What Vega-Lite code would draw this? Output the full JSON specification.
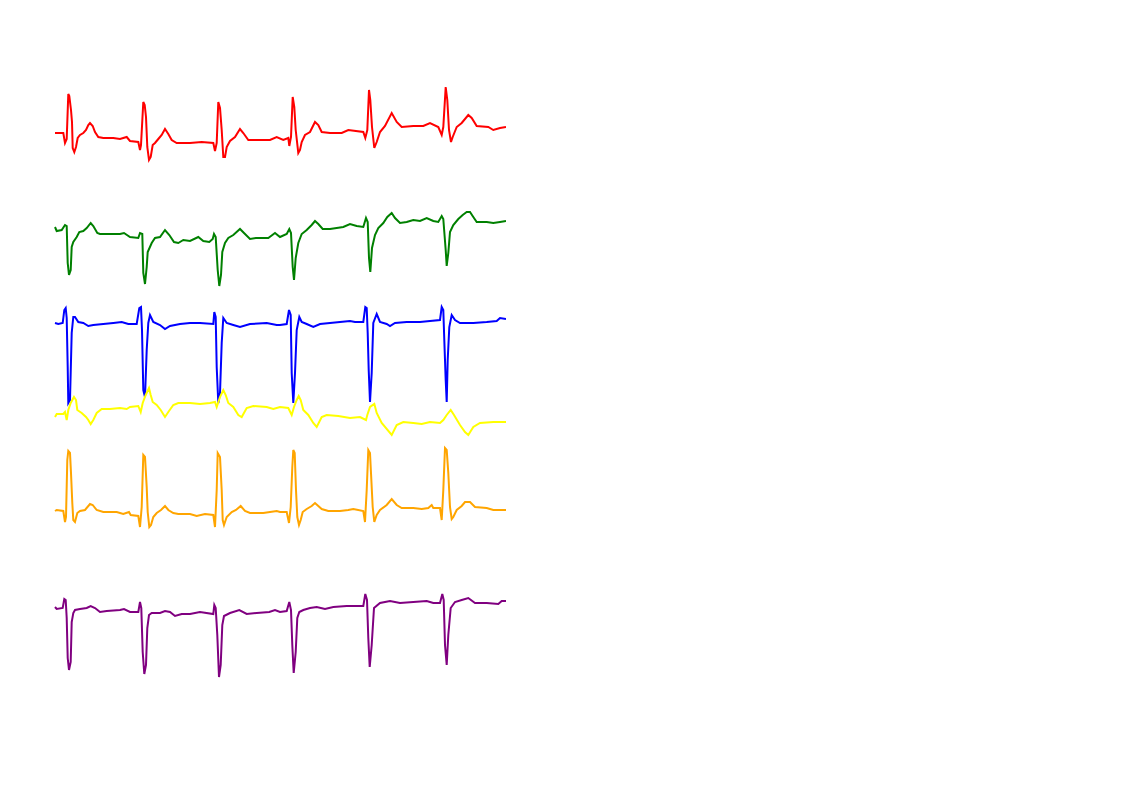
{
  "$schema": "https://vega.github.io/schema/vega-lite/v6.json",
  "width": 451,
  "height": 793,
  "autosize": {"type": "none"},
  "padding": {"left": 55, "top": 0, "right": 0, "bottom": 0},
  "background": "white",
  "config": {"view": {"stroke": null}},
  "data": {"values": [
    {"lead":"L1","t":0,"v":6.60},{"lead":"L1","t":8.3,"v":6.60},{"lead":"L1","t":10,"v":6.50},{"lead":"L1","t":11.7,"v":6.54},{"lead":"L1","t":13.3,"v":6.99},{"lead":"L1","t":14.3,"v":6.97},{"lead":"L1","t":16,"v":6.83},{"lead":"L1","t":17,"v":6.71},{"lead":"L1","t":17.7,"v":6.45},{"lead":"L1","t":19.3,"v":6.41},{"lead":"L1","t":21,"v":6.46},{"lead":"L1","t":22.7,"v":6.55},{"lead":"L1","t":25,"v":6.58},{"lead":"L1","t":28.3,"v":6.60},{"lead":"L1","t":31,"v":6.63},{"lead":"L1","t":33.3,"v":6.68},{"lead":"L1","t":35,"v":6.70},{"lead":"L1","t":37.7,"v":6.67},{"lead":"L1","t":40,"v":6.61},{"lead":"L1","t":43.3,"v":6.56},{"lead":"L1","t":48.3,"v":6.55},{"lead":"L1","t":58.3,"v":6.55},{"lead":"L1","t":65,"v":6.54},{"lead":"L1","t":71.7,"v":6.56},{"lead":"L1","t":75,"v":6.52},{"lead":"L1","t":83.3,"v":6.51},{"lead":"L1","t":85,"v":6.43},{"lead":"L1","t":86,"v":6.48},{"lead":"L1","t":88.3,"v":6.91},{"lead":"L1","t":89.7,"v":6.88},{"lead":"L1","t":91,"v":6.76},{"lead":"L1","t":92.3,"v":6.46},{"lead":"L1","t":94,"v":6.33},{"lead":"L1","t":95.7,"v":6.36},{"lead":"L1","t":97.7,"v":6.48},{"lead":"L1","t":100,"v":6.50},{"lead":"L1","t":103.3,"v":6.54},{"lead":"L1","t":106.7,"v":6.58},{"lead":"L1","t":110,"v":6.64},{"lead":"L1","t":113.3,"v":6.59},{"lead":"L1","t":116.7,"v":6.53},{"lead":"L1","t":121.7,"v":6.50},{"lead":"L1","t":135,"v":6.50},{"lead":"L1","t":146.7,"v":6.51},{"lead":"L1","t":158.3,"v":6.50},{"lead":"L1","t":160,"v":6.42},{"lead":"L1","t":161.7,"v":6.50},{"lead":"L1","t":163.3,"v":6.91},{"lead":"L1","t":165,"v":6.85},{"lead":"L1","t":166.7,"v":6.63},{"lead":"L1","t":168.3,"v":6.36},{"lead":"L1","t":170,"v":6.36},{"lead":"L1","t":171.7,"v":6.46},{"lead":"L1","t":175,"v":6.52},{"lead":"L1","t":180,"v":6.56},{"lead":"L1","t":185,"v":6.64},{"lead":"L1","t":188.3,"v":6.60},{"lead":"L1","t":193.3,"v":6.53},{"lead":"L1","t":201.7,"v":6.53},{"lead":"L1","t":215,"v":6.53},{"lead":"L1","t":221.7,"v":6.56},{"lead":"L1","t":228.3,"v":6.53},{"lead":"L1","t":233.3,"v":6.55},{"lead":"L1","t":234.3,"v":6.47},{"lead":"L1","t":236,"v":6.56},{"lead":"L1","t":237.7,"v":6.96},{"lead":"L1","t":239.3,"v":6.86},{"lead":"L1","t":240.7,"v":6.63},{"lead":"L1","t":243.3,"v":6.40},{"lead":"L1","t":245,"v":6.43},{"lead":"L1","t":246.7,"v":6.51},{"lead":"L1","t":250,"v":6.58},{"lead":"L1","t":255,"v":6.61},{"lead":"L1","t":260,"v":6.71},{"lead":"L1","t":263.3,"v":6.68},{"lead":"L1","t":266.7,"v":6.61},{"lead":"L1","t":275,"v":6.60},{"lead":"L1","t":286.7,"v":6.60},{"lead":"L1","t":293.3,"v":6.63},{"lead":"L1","t":308.3,"v":6.61},{"lead":"L1","t":310.3,"v":6.55},{"lead":"L1","t":312.3,"v":6.63},{"lead":"L1","t":314,"v":7.03},{"lead":"L1","t":315.3,"v":6.93},{"lead":"L1","t":317,"v":6.66},{"lead":"L1","t":319.3,"v":6.45},{"lead":"L1","t":321.7,"v":6.51},{"lead":"L1","t":325,"v":6.61},{"lead":"L1","t":330,"v":6.67},{"lead":"L1","t":336.7,"v":6.80},{"lead":"L1","t":341.7,"v":6.71},{"lead":"L1","t":346.7,"v":6.66},{"lead":"L1","t":358.3,"v":6.67},{"lead":"L1","t":368.3,"v":6.67},{"lead":"L1","t":375,"v":6.70},{"lead":"L1","t":383.3,"v":6.66},{"lead":"L1","t":386.7,"v":6.58},{"lead":"L1","t":388.3,"v":6.66},{"lead":"L1","t":390.7,"v":7.06},{"lead":"L1","t":392.3,"v":6.93},{"lead":"L1","t":394,"v":6.63},{"lead":"L1","t":396,"v":6.51},{"lead":"L1","t":397.7,"v":6.56},{"lead":"L1","t":401.7,"v":6.66},{"lead":"L1","t":406.7,"v":6.70},{"lead":"L1","t":413.3,"v":6.78},{"lead":"L1","t":416.7,"v":6.75},{"lead":"L1","t":421.7,"v":6.67},{"lead":"L1","t":433.3,"v":6.66},{"lead":"L1","t":438.3,"v":6.63},{"lead":"L1","t":445,"v":6.65},{"lead":"L1","t":451,"v":6.66},

    {"lead":"L2","t":0,"v":5.66},{"lead":"L2","t":1.7,"v":5.62},{"lead":"L2","t":6.7,"v":5.63},{"lead":"L2","t":10,"v":5.68},{"lead":"L2","t":11.7,"v":5.67},{"lead":"L2","t":12.7,"v":5.30},{"lead":"L2","t":14,"v":5.18},{"lead":"L2","t":15.7,"v":5.23},{"lead":"L2","t":16.7,"v":5.46},{"lead":"L2","t":18.3,"v":5.51},{"lead":"L2","t":21.7,"v":5.56},{"lead":"L2","t":24.3,"v":5.61},{"lead":"L2","t":28.3,"v":5.62},{"lead":"L2","t":31.7,"v":5.65},{"lead":"L2","t":35.7,"v":5.70},{"lead":"L2","t":38.3,"v":5.67},{"lead":"L2","t":42.3,"v":5.60},{"lead":"L2","t":45,"v":5.59},{"lead":"L2","t":65,"v":5.59},{"lead":"L2","t":69,"v":5.60},{"lead":"L2","t":75,"v":5.56},{"lead":"L2","t":83.3,"v":5.55},{"lead":"L2","t":85,"v":5.60},{"lead":"L2","t":87.3,"v":5.59},{"lead":"L2","t":88.3,"v":5.20},{"lead":"L2","t":90,"v":5.09},{"lead":"L2","t":91.7,"v":5.26},{"lead":"L2","t":92.7,"v":5.41},{"lead":"L2","t":96.7,"v":5.50},{"lead":"L2","t":100,"v":5.55},{"lead":"L2","t":105,"v":5.56},{"lead":"L2","t":110,"v":5.63},{"lead":"L2","t":114.3,"v":5.58},{"lead":"L2","t":119,"v":5.51},{"lead":"L2","t":123.3,"v":5.50},{"lead":"L2","t":128.3,"v":5.53},{"lead":"L2","t":135,"v":5.52},{"lead":"L2","t":143.3,"v":5.56},{"lead":"L2","t":148.3,"v":5.52},{"lead":"L2","t":154.3,"v":5.51},{"lead":"L2","t":157.7,"v":5.54},{"lead":"L2","t":159,"v":5.59},{"lead":"L2","t":160.7,"v":5.56},{"lead":"L2","t":162.7,"v":5.23},{"lead":"L2","t":164.3,"v":5.07},{"lead":"L2","t":166,"v":5.18},{"lead":"L2","t":167.3,"v":5.41},{"lead":"L2","t":170,"v":5.50},{"lead":"L2","t":173.3,"v":5.55},{"lead":"L2","t":178.3,"v":5.58},{"lead":"L2","t":185,"v":5.64},{"lead":"L2","t":189,"v":5.60},{"lead":"L2","t":195,"v":5.54},{"lead":"L2","t":201,"v":5.55},{"lead":"L2","t":213.3,"v":5.55},{"lead":"L2","t":220,"v":5.60},{"lead":"L2","t":225,"v":5.56},{"lead":"L2","t":231.7,"v":5.59},{"lead":"L2","t":234.3,"v":5.64},{"lead":"L2","t":236,"v":5.60},{"lead":"L2","t":237.7,"v":5.26},{"lead":"L2","t":239,"v":5.13},{"lead":"L2","t":240.7,"v":5.35},{"lead":"L2","t":243.3,"v":5.50},{"lead":"L2","t":246.7,"v":5.59},{"lead":"L2","t":251.7,"v":5.63},{"lead":"L2","t":256.7,"v":5.68},{"lead":"L2","t":260,"v":5.72},{"lead":"L2","t":263.3,"v":5.69},{"lead":"L2","t":267.7,"v":5.64},{"lead":"L2","t":275,"v":5.64},{"lead":"L2","t":281.7,"v":5.65},{"lead":"L2","t":288.3,"v":5.66},{"lead":"L2","t":295,"v":5.69},{"lead":"L2","t":301.7,"v":5.67},{"lead":"L2","t":308.3,"v":5.66},{"lead":"L2","t":311,"v":5.75},{"lead":"L2","t":312.7,"v":5.71},{"lead":"L2","t":314,"v":5.35},{"lead":"L2","t":315.3,"v":5.21},{"lead":"L2","t":317,"v":5.45},{"lead":"L2","t":320,"v":5.58},{"lead":"L2","t":323.3,"v":5.65},{"lead":"L2","t":328.3,"v":5.70},{"lead":"L2","t":332.3,"v":5.76},{"lead":"L2","t":336.7,"v":5.80},{"lead":"L2","t":340,"v":5.75},{"lead":"L2","t":345,"v":5.70},{"lead":"L2","t":351.7,"v":5.71},{"lead":"L2","t":358.3,"v":5.73},{"lead":"L2","t":365,"v":5.72},{"lead":"L2","t":371.7,"v":5.75},{"lead":"L2","t":378.3,"v":5.72},{"lead":"L2","t":383.3,"v":5.71},{"lead":"L2","t":386.7,"v":5.77},{"lead":"L2","t":388.3,"v":5.74},{"lead":"L2","t":390.7,"v":5.43},{"lead":"L2","t":391.7,"v":5.27},{"lead":"L2","t":393.3,"v":5.40},{"lead":"L2","t":395,"v":5.61},{"lead":"L2","t":398.3,"v":5.68},{"lead":"L2","t":403.3,"v":5.74},{"lead":"L2","t":407.7,"v":5.78},{"lead":"L2","t":411.7,"v":5.81},{"lead":"L2","t":415,"v":5.81},{"lead":"L2","t":418.3,"v":5.76},{"lead":"L2","t":421.7,"v":5.71},{"lead":"L2","t":431.7,"v":5.71},{"lead":"L2","t":438.3,"v":5.70},{"lead":"L2","t":445,"v":5.71},{"lead":"L2","t":451,"v":5.72},

    {"lead":"L3","t":0,"v":4.70},{"lead":"L3","t":3.3,"v":4.69},{"lead":"L3","t":7.7,"v":4.70},{"lead":"L3","t":9.3,"v":4.83},{"lead":"L3","t":10.7,"v":4.85},{"lead":"L3","t":11.7,"v":4.75},{"lead":"L3","t":12.7,"v":4.26},{"lead":"L3","t":13.3,"v":3.90},{"lead":"L3","t":15,"v":3.93},{"lead":"L3","t":16.7,"v":4.60},{"lead":"L3","t":18.3,"v":4.76},{"lead":"L3","t":20,"v":4.76},{"lead":"L3","t":23.3,"v":4.71},{"lead":"L3","t":28.3,"v":4.70},{"lead":"L3","t":33.3,"v":4.67},{"lead":"L3","t":38.3,"v":4.68},{"lead":"L3","t":48.3,"v":4.69},{"lead":"L3","t":58.3,"v":4.70},{"lead":"L3","t":66.7,"v":4.71},{"lead":"L3","t":73.3,"v":4.69},{"lead":"L3","t":81.7,"v":4.69},{"lead":"L3","t":84.3,"v":4.85},{"lead":"L3","t":86,"v":4.86},{"lead":"L3","t":87,"v":4.63},{"lead":"L3","t":88.3,"v":4.03},{"lead":"L3","t":90,"v":3.96},{"lead":"L3","t":91.7,"v":4.43},{"lead":"L3","t":93.3,"v":4.70},{"lead":"L3","t":95,"v":4.78},{"lead":"L3","t":98.3,"v":4.71},{"lead":"L3","t":105,"v":4.68},{"lead":"L3","t":110,"v":4.64},{"lead":"L3","t":115,"v":4.67},{"lead":"L3","t":125,"v":4.69},{"lead":"L3","t":135,"v":4.70},{"lead":"L3","t":145,"v":4.70},{"lead":"L3","t":158.3,"v":4.69},{"lead":"L3","t":159.3,"v":4.81},{"lead":"L3","t":160.7,"v":4.76},{"lead":"L3","t":161.7,"v":4.26},{"lead":"L3","t":163.3,"v":3.90},{"lead":"L3","t":165,"v":4.00},{"lead":"L3","t":166.7,"v":4.50},{"lead":"L3","t":168.3,"v":4.75},{"lead":"L3","t":171.7,"v":4.70},{"lead":"L3","t":178.3,"v":4.68},{"lead":"L3","t":185,"v":4.66},{"lead":"L3","t":195,"v":4.69},{"lead":"L3","t":211.7,"v":4.70},{"lead":"L3","t":221.7,"v":4.68},{"lead":"L3","t":225,"v":4.68},{"lead":"L3","t":231.7,"v":4.69},{"lead":"L3","t":234,"v":4.83},{"lead":"L3","t":235.7,"v":4.78},{"lead":"L3","t":236.7,"v":4.20},{"lead":"L3","t":238.3,"v":3.90},{"lead":"L3","t":240,"v":4.20},{"lead":"L3","t":241.7,"v":4.63},{"lead":"L3","t":244.3,"v":4.76},{"lead":"L3","t":246.7,"v":4.71},{"lead":"L3","t":251.7,"v":4.69},{"lead":"L3","t":258.3,"v":4.66},{"lead":"L3","t":265,"v":4.69},{"lead":"L3","t":275,"v":4.70},{"lead":"L3","t":285,"v":4.71},{"lead":"L3","t":295,"v":4.72},{"lead":"L3","t":300,"v":4.71},{"lead":"L3","t":308.3,"v":4.71},{"lead":"L3","t":310.3,"v":4.86},{"lead":"L3","t":311.7,"v":4.85},{"lead":"L3","t":312.7,"v":4.60},{"lead":"L3","t":313.7,"v":4.23},{"lead":"L3","t":315,"v":3.91},{"lead":"L3","t":316.7,"v":4.20},{"lead":"L3","t":318.3,"v":4.70},{"lead":"L3","t":321.7,"v":4.79},{"lead":"L3","t":325,"v":4.71},{"lead":"L3","t":331.7,"v":4.69},{"lead":"L3","t":335,"v":4.67},{"lead":"L3","t":340,"v":4.70},{"lead":"L3","t":351.7,"v":4.71},{"lead":"L3","t":365,"v":4.71},{"lead":"L3","t":375,"v":4.72},{"lead":"L3","t":385,"v":4.73},{"lead":"L3","t":386.7,"v":4.86},{"lead":"L3","t":388.3,"v":4.83},{"lead":"L3","t":389.3,"v":4.53},{"lead":"L3","t":390.7,"v":4.13},{"lead":"L3","t":391.7,"v":3.91},{"lead":"L3","t":392.7,"v":4.33},{"lead":"L3","t":394.3,"v":4.66},{"lead":"L3","t":396.7,"v":4.78},{"lead":"L3","t":400,"v":4.73},{"lead":"L3","t":405,"v":4.70},{"lead":"L3","t":418.3,"v":4.70},{"lead":"L3","t":431.7,"v":4.71},{"lead":"L3","t":441.7,"v":4.72},{"lead":"L3","t":445,"v":4.75},{"lead":"L3","t":451,"v":4.74},

    {"lead":"L4","t":0,"v":3.76},{"lead":"L4","t":1.7,"v":3.79},{"lead":"L4","t":8.3,"v":3.79},{"lead":"L4","t":10,"v":3.81},{"lead":"L4","t":11.7,"v":3.73},{"lead":"L4","t":13.3,"v":3.83},{"lead":"L4","t":15.7,"v":3.90},{"lead":"L4","t":19,"v":3.96},{"lead":"L4","t":21,"v":3.93},{"lead":"L4","t":22.3,"v":3.83},{"lead":"L4","t":26.7,"v":3.80},{"lead":"L4","t":31,"v":3.76},{"lead":"L4","t":33.3,"v":3.73},{"lead":"L4","t":35.7,"v":3.69},{"lead":"L4","t":38.3,"v":3.73},{"lead":"L4","t":41.7,"v":3.80},{"lead":"L4","t":46.7,"v":3.84},{"lead":"L4","t":55,"v":3.84},{"lead":"L4","t":65,"v":3.85},{"lead":"L4","t":71.7,"v":3.84},{"lead":"L4","t":75,"v":3.86},{"lead":"L4","t":83.3,"v":3.87},{"lead":"L4","t":85.7,"v":3.81},{"lead":"L4","t":87.7,"v":3.90},{"lead":"L4","t":90.7,"v":3.98},{"lead":"L4","t":94,"v":4.05},{"lead":"L4","t":95.7,"v":3.98},{"lead":"L4","t":97.7,"v":3.91},{"lead":"L4","t":101.7,"v":3.88},{"lead":"L4","t":105.7,"v":3.83},{"lead":"L4","t":110,"v":3.76},{"lead":"L4","t":113.3,"v":3.81},{"lead":"L4","t":118.3,"v":3.88},{"lead":"L4","t":123.3,"v":3.90},{"lead":"L4","t":135,"v":3.90},{"lead":"L4","t":145,"v":3.89},{"lead":"L4","t":155,"v":3.90},{"lead":"L4","t":160,"v":3.91},{"lead":"L4","t":161.7,"v":3.86},{"lead":"L4","t":165,"v":3.96},{"lead":"L4","t":168.3,"v":4.03},{"lead":"L4","t":170.7,"v":3.98},{"lead":"L4","t":173.3,"v":3.90},{"lead":"L4","t":178.3,"v":3.86},{"lead":"L4","t":183.3,"v":3.78},{"lead":"L4","t":186.7,"v":3.76},{"lead":"L4","t":191.7,"v":3.85},{"lead":"L4","t":198.3,"v":3.87},{"lead":"L4","t":211.7,"v":3.86},{"lead":"L4","t":218.3,"v":3.84},{"lead":"L4","t":225,"v":3.86},{"lead":"L4","t":233.3,"v":3.85},{"lead":"L4","t":236.7,"v":3.78},{"lead":"L4","t":239,"v":3.86},{"lead":"L4","t":241.7,"v":3.93},{"lead":"L4","t":243.7,"v":3.97},{"lead":"L4","t":245.7,"v":3.93},{"lead":"L4","t":248.3,"v":3.83},{"lead":"L4","t":253.3,"v":3.78},{"lead":"L4","t":258.3,"v":3.70},{"lead":"L4","t":261.7,"v":3.66},{"lead":"L4","t":266.7,"v":3.76},{"lead":"L4","t":271.7,"v":3.78},{"lead":"L4","t":283.3,"v":3.77},{"lead":"L4","t":295,"v":3.75},{"lead":"L4","t":305,"v":3.76},{"lead":"L4","t":311,"v":3.73},{"lead":"L4","t":312.3,"v":3.78},{"lead":"L4","t":315,"v":3.86},{"lead":"L4","t":319.3,"v":3.89},{"lead":"L4","t":321.7,"v":3.80},{"lead":"L4","t":326.7,"v":3.70},{"lead":"L4","t":336.7,"v":3.58},{"lead":"L4","t":341.7,"v":3.68},{"lead":"L4","t":348.3,"v":3.71},{"lead":"L4","t":358.3,"v":3.70},{"lead":"L4","t":366.7,"v":3.69},{"lead":"L4","t":375,"v":3.71},{"lead":"L4","t":385,"v":3.70},{"lead":"L4","t":388.3,"v":3.73},{"lead":"L4","t":391.7,"v":3.78},{"lead":"L4","t":395.7,"v":3.83},{"lead":"L4","t":399,"v":3.78},{"lead":"L4","t":405,"v":3.68},{"lead":"L4","t":410,"v":3.61},{"lead":"L4","t":413.3,"v":3.58},{"lead":"L4","t":418.3,"v":3.66},{"lead":"L4","t":425,"v":3.70},{"lead":"L4","t":438.3,"v":3.71},{"lead":"L4","t":451,"v":3.71},

    {"lead":"L5","t":0,"v":2.82},{"lead":"L5","t":1.7,"v":2.83},{"lead":"L5","t":8.3,"v":2.82},{"lead":"L5","t":10,"v":2.71},{"lead":"L5","t":11,"v":2.76},{"lead":"L5","t":12.3,"v":3.33},{"lead":"L5","t":13.3,"v":3.42},{"lead":"L5","t":15,"v":3.40},{"lead":"L5","t":16,"v":3.20},{"lead":"L5","t":17.3,"v":2.90},{"lead":"L5","t":18.3,"v":2.73},{"lead":"L5","t":20,"v":2.71},{"lead":"L5","t":22.3,"v":2.80},{"lead":"L5","t":25,"v":2.82},{"lead":"L5","t":30,"v":2.83},{"lead":"L5","t":35,"v":2.89},{"lead":"L5","t":37.7,"v":2.88},{"lead":"L5","t":41.7,"v":2.83},{"lead":"L5","t":48.3,"v":2.81},{"lead":"L5","t":61.7,"v":2.81},{"lead":"L5","t":68.3,"v":2.79},{"lead":"L5","t":74,"v":2.81},{"lead":"L5","t":75.7,"v":2.78},{"lead":"L5","t":83.3,"v":2.77},{"lead":"L5","t":85,"v":2.66},{"lead":"L5","t":86.7,"v":2.86},{"lead":"L5","t":88.3,"v":3.38},{"lead":"L5","t":90,"v":3.36},{"lead":"L5","t":91.7,"v":3.06},{"lead":"L5","t":92.7,"v":2.81},{"lead":"L5","t":94.3,"v":2.66},{"lead":"L5","t":96,"v":2.68},{"lead":"L5","t":98.3,"v":2.76},{"lead":"L5","t":101.7,"v":2.80},{"lead":"L5","t":106,"v":2.83},{"lead":"L5","t":110,"v":2.87},{"lead":"L5","t":113.3,"v":2.83},{"lead":"L5","t":118.3,"v":2.80},{"lead":"L5","t":123.3,"v":2.79},{"lead":"L5","t":135,"v":2.79},{"lead":"L5","t":141.7,"v":2.77},{"lead":"L5","t":150,"v":2.79},{"lead":"L5","t":158.3,"v":2.78},{"lead":"L5","t":160,"v":2.66},{"lead":"L5","t":161.7,"v":3.03},{"lead":"L5","t":162.7,"v":3.40},{"lead":"L5","t":165,"v":3.36},{"lead":"L5","t":166.7,"v":3.03},{"lead":"L5","t":167.7,"v":2.73},{"lead":"L5","t":169,"v":2.68},{"lead":"L5","t":171.7,"v":2.76},{"lead":"L5","t":176.7,"v":2.81},{"lead":"L5","t":181,"v":2.83},{"lead":"L5","t":185.7,"v":2.87},{"lead":"L5","t":190,"v":2.82},{"lead":"L5","t":195,"v":2.80},{"lead":"L5","t":208.3,"v":2.80},{"lead":"L5","t":215,"v":2.81},{"lead":"L5","t":221.7,"v":2.82},{"lead":"L5","t":225,"v":2.81},{"lead":"L5","t":231.7,"v":2.81},{"lead":"L5","t":234,"v":2.70},{"lead":"L5","t":235.7,"v":2.86},{"lead":"L5","t":237.3,"v":3.26},{"lead":"L5","t":238.3,"v":3.43},{"lead":"L5","t":239.7,"v":3.40},{"lead":"L5","t":241,"v":3.03},{"lead":"L5","t":242.3,"v":2.76},{"lead":"L5","t":244,"v":2.68},{"lead":"L5","t":245.7,"v":2.73},{"lead":"L5","t":247.7,"v":2.81},{"lead":"L5","t":251.7,"v":2.84},{"lead":"L5","t":256.7,"v":2.87},{"lead":"L5","t":260,"v":2.90},{"lead":"L5","t":263.3,"v":2.87},{"lead":"L5","t":266.7,"v":2.84},{"lead":"L5","t":273.3,"v":2.82},{"lead":"L5","t":285,"v":2.82},{"lead":"L5","t":293.3,"v":2.83},{"lead":"L5","t":298.3,"v":2.84},{"lead":"L5","t":308.3,"v":2.82},{"lead":"L5","t":310,"v":2.71},{"lead":"L5","t":311.7,"v":3.03},{"lead":"L5","t":313.3,"v":3.43},{"lead":"L5","t":315,"v":3.40},{"lead":"L5","t":316,"v":3.20},{"lead":"L5","t":317.7,"v":2.86},{"lead":"L5","t":319.3,"v":2.71},{"lead":"L5","t":321.7,"v":2.78},{"lead":"L5","t":325,"v":2.83},{"lead":"L5","t":331.7,"v":2.88},{"lead":"L5","t":336.7,"v":2.94},{"lead":"L5","t":341.7,"v":2.88},{"lead":"L5","t":346.7,"v":2.85},{"lead":"L5","t":358.3,"v":2.85},{"lead":"L5","t":366.7,"v":2.84},{"lead":"L5","t":373.3,"v":2.85},{"lead":"L5","t":376.7,"v":2.88},{"lead":"L5","t":378.3,"v":2.85},{"lead":"L5","t":385,"v":2.85},{"lead":"L5","t":386.7,"v":2.73},{"lead":"L5","t":388.3,"v":3.03},{"lead":"L5","t":390,"v":3.45},{"lead":"L5","t":391.7,"v":3.43},{"lead":"L5","t":393.3,"v":3.20},{"lead":"L5","t":395,"v":2.86},{"lead":"L5","t":396.7,"v":2.74},{"lead":"L5","t":398.3,"v":2.76},{"lead":"L5","t":401.7,"v":2.83},{"lead":"L5","t":406.7,"v":2.87},{"lead":"L5","t":410,"v":2.91},{"lead":"L5","t":415,"v":2.91},{"lead":"L5","t":420,"v":2.86},{"lead":"L5","t":431.7,"v":2.85},{"lead":"L5","t":438.3,"v":2.83},{"lead":"L5","t":445,"v":2.83},{"lead":"L5","t":451,"v":2.83},

    {"lead":"L6","t":0,"v":1.86},{"lead":"L6","t":1.7,"v":1.84},{"lead":"L6","t":7.7,"v":1.85},{"lead":"L6","t":9.3,"v":1.94},{"lead":"L6","t":10.7,"v":1.93},{"lead":"L6","t":11.7,"v":1.75},{"lead":"L6","t":12.7,"v":1.35},{"lead":"L6","t":14,"v":1.23},{"lead":"L6","t":15.7,"v":1.31},{"lead":"L6","t":16.7,"v":1.71},{"lead":"L6","t":18.3,"v":1.80},{"lead":"L6","t":20,"v":1.83},{"lead":"L6","t":25,"v":1.84},{"lead":"L6","t":31.7,"v":1.85},{"lead":"L6","t":35.7,"v":1.87},{"lead":"L6","t":40,"v":1.85},{"lead":"L6","t":45,"v":1.81},{"lead":"L6","t":51.7,"v":1.82},{"lead":"L6","t":65,"v":1.83},{"lead":"L6","t":69,"v":1.84},{"lead":"L6","t":75,"v":1.81},{"lead":"L6","t":83.3,"v":1.81},{"lead":"L6","t":85,"v":1.91},{"lead":"L6","t":86.3,"v":1.85},{"lead":"L6","t":87.7,"v":1.41},{"lead":"L6","t":89.3,"v":1.19},{"lead":"L6","t":91,"v":1.28},{"lead":"L6","t":92.3,"v":1.65},{"lead":"L6","t":94,"v":1.78},{"lead":"L6","t":96.7,"v":1.80},{"lead":"L6","t":105,"v":1.80},{"lead":"L6","t":110,"v":1.82},{"lead":"L6","t":115,"v":1.81},{"lead":"L6","t":120,"v":1.77},{"lead":"L6","t":126.7,"v":1.79},{"lead":"L6","t":135,"v":1.79},{"lead":"L6","t":145,"v":1.81},{"lead":"L6","t":158.3,"v":1.79},{"lead":"L6","t":159.3,"v":1.88},{"lead":"L6","t":160.7,"v":1.85},{"lead":"L6","t":162.3,"v":1.58},{"lead":"L6","t":164,"v":1.16},{"lead":"L6","t":165.7,"v":1.28},{"lead":"L6","t":167.3,"v":1.68},{"lead":"L6","t":169,"v":1.77},{"lead":"L6","t":175,"v":1.80},{"lead":"L6","t":184.3,"v":1.83},{"lead":"L6","t":191.7,"v":1.79},{"lead":"L6","t":201.7,"v":1.80},{"lead":"L6","t":214.3,"v":1.81},{"lead":"L6","t":220,"v":1.83},{"lead":"L6","t":225,"v":1.81},{"lead":"L6","t":231.7,"v":1.82},{"lead":"L6","t":234.3,"v":1.91},{"lead":"L6","t":236,"v":1.83},{"lead":"L6","t":237.3,"v":1.48},{"lead":"L6","t":238.7,"v":1.20},{"lead":"L6","t":240.7,"v":1.41},{"lead":"L6","t":242.3,"v":1.75},{"lead":"L6","t":244.3,"v":1.81},{"lead":"L6","t":248.3,"v":1.83},{"lead":"L6","t":255,"v":1.85},{"lead":"L6","t":261.7,"v":1.86},{"lead":"L6","t":270,"v":1.84},{"lead":"L6","t":278.3,"v":1.86},{"lead":"L6","t":291.7,"v":1.87},{"lead":"L6","t":300,"v":1.87},{"lead":"L6","t":308.3,"v":1.87},{"lead":"L6","t":310.3,"v":1.99},{"lead":"L6","t":312,"v":1.93},{"lead":"L6","t":313.3,"v":1.55},{"lead":"L6","t":314.7,"v":1.26},{"lead":"L6","t":316.7,"v":1.48},{"lead":"L6","t":319,"v":1.85},{"lead":"L6","t":325,"v":1.90},{"lead":"L6","t":335,"v":1.92},{"lead":"L6","t":345,"v":1.90},{"lead":"L6","t":358.3,"v":1.91},{"lead":"L6","t":371.7,"v":1.92},{"lead":"L6","t":378.3,"v":1.90},{"lead":"L6","t":385,"v":1.90},{"lead":"L6","t":387.3,"v":1.99},{"lead":"L6","t":388.7,"v":1.93},{"lead":"L6","t":390,"v":1.48},{"lead":"L6","t":391.7,"v":1.28},{"lead":"L6","t":393.3,"v":1.58},{"lead":"L6","t":395.7,"v":1.85},{"lead":"L6","t":400,"v":1.91},{"lead":"L6","t":406.7,"v":1.93},{"lead":"L6","t":413.3,"v":1.95},{"lead":"L6","t":420,"v":1.90},{"lead":"L6","t":431.7,"v":1.90},{"lead":"L6","t":443.3,"v":1.89},{"lead":"L6","t":446.7,"v":1.92},{"lead":"L6","t":451,"v":1.92}
  ]},
  "mark": {"type": "line", "strokeWidth": 2, "clip": false},
  "encoding": {
    "x": {"field": "t", "type": "quantitative", "scale": {"domain": [0, 451], "nice": false, "zero": false}, "axis": null},
    "y": {"field": "v", "type": "quantitative", "scale": {"domain": [0, 7.93], "nice": false, "zero": false}, "axis": null},
    "color": {"field": "lead", "type": "nominal", "scale": {"domain": ["L1","L2","L3","L4","L5","L6"], "range": ["#ff0000","#008000","#0000ff","#ffff00","#ffa500","#800080"]}, "legend": null},
    "detail": {"field": "lead"}
  }
}
